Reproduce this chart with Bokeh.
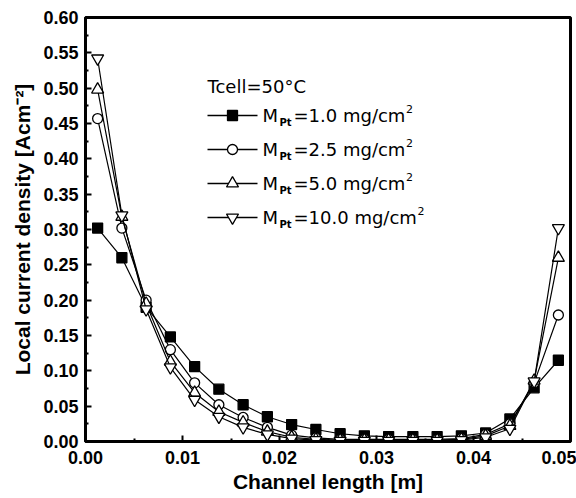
from bokeh.plotting import figure
from bokeh.models import Range1d, FixedTicker, PrintfTickFormatter
from bokeh.core.properties import value
from bokeh.embed import file_html
from bokeh.resources import INLINE

# ---- data ----
channel_x = [0.00125, 0.00375, 0.00625, 0.00875, 0.01125, 0.01375, 0.01625, 0.01875,
             0.02125, 0.02375, 0.02625, 0.02875, 0.03125, 0.03375, 0.03625, 0.03875,
             0.04125, 0.04375, 0.04625, 0.04875]
m_1_0 = [0.302, 0.260, 0.190, 0.148, 0.106, 0.074, 0.052, 0.035, 0.024, 0.017,
         0.011, 0.008, 0.007, 0.007, 0.007, 0.008, 0.012, 0.032, 0.076, 0.115]
m_2_5 = [0.457, 0.302, 0.200, 0.130, 0.083, 0.052, 0.034, 0.020, 0.009, 0.005,
         0.003, 0.003, 0.003, 0.003, 0.003, 0.004, 0.010, 0.025, 0.083, 0.179]
m_5_0 = [0.498, 0.318, 0.195, 0.113, 0.069, 0.042, 0.027, 0.014, 0.006, 0.003,
         0.002, 0.002, 0.002, 0.002, 0.002, 0.003, 0.008, 0.022, 0.086, 0.260]
m_10_0 = [0.542, 0.320, 0.187, 0.105, 0.059, 0.035, 0.020, 0.010, 0.004, 0.002,
          0.001, 0.001, 0.001, 0.001, 0.001, 0.002, 0.006, 0.018, 0.085, 0.302]

series_labels = ["=1.0 mg/cm", "=2.5 mg/cm", "=5.0 mg/cm", "=10.0 mg/cm"]
series_values = [m_1_0, m_2_5, m_5_0, m_10_0]
series_markers = ["square", "circle", "triangle", "inverted_triangle"]
series_fills = ["black", "white", "white", "white"]
series_sizes = [10, 10, 12, 12]

x_ticks = [0.0, 0.01, 0.02, 0.03, 0.04, 0.05]
x_minor = [0.005, 0.015, 0.025, 0.035, 0.045]
y_ticks = [0.0, 0.05, 0.10, 0.15, 0.20, 0.25, 0.30, 0.35, 0.40, 0.45, 0.50, 0.55, 0.60]
y_minor = [0.025, 0.075, 0.125, 0.175, 0.225, 0.275, 0.325, 0.375, 0.425, 0.475, 0.525, 0.575]

X0, X1, Y0, Y1 = 0.0, 0.05, 0.0, 0.60
# frame in pixels
FL, FR, FT, FB = 85, 570, 17, 441
W, H = 576, 498

p = figure(width=W, height=H, output_backend="svg", toolbar_location=None,
           x_range=Range1d(X0, X1), y_range=Range1d(Y0, Y1),
           min_border_left=FL, min_border_right=W - FR,
           min_border_top=FT, min_border_bottom=H - FB)
p.grid.visible = False
p.outline_line_color = "black"
p.outline_line_width = 3
p.background_fill_color = "white"
p.border_fill_color = "white"

for ax in (p.xaxis[0], p.yaxis[0]):
    ax.axis_line_width = 3
    ax.major_tick_in = 6
    ax.major_tick_out = 0
    ax.minor_tick_in = 3
    ax.minor_tick_out = 0
    ax.major_tick_line_width = 2
    ax.minor_tick_line_width = 2
    ax.major_label_text_font = "Liberation Sans"
    ax.major_label_text_font_style = "bold"
    ax.major_label_text_font_size = "18px"
    ax.major_label_text_color = "black"
    ax.axis_label_text_font = "Liberation Sans"
    ax.axis_label_text_font_style = "bold"
    ax.axis_label_text_font_size = "21px"
    ax.axis_label_text_color = "black"
    ax.formatter = PrintfTickFormatter(format="%.2f")

p.xaxis[0].ticker = FixedTicker(ticks=x_ticks, minor_ticks=x_minor)
p.yaxis[0].ticker = FixedTicker(ticks=y_ticks, minor_ticks=y_minor)
p.xaxis[0].axis_label = "Channel length [m]"
p.yaxis[0].axis_label = "Local current density [Acm\u207b\u00b2]"
p.xaxis[0].major_label_standoff = 9
p.xaxis[0].axis_label_standoff = 3
p.yaxis[0].major_label_standoff = 7
p.yaxis[0].axis_label_standoff = 6

for vals, mk, fc, sz in zip(series_values, series_markers, series_fills, series_sizes):
    p.line(channel_x, vals, line_color="black", line_width=1.2)
    p.scatter(channel_x, vals, marker=mk, size=sz, fill_color=fc,
              line_color="black", line_width=1.3)

# ---- custom legend (positions given in pixels, converted to data) ----
def dx(px):
    return X0 + (px - FL) / (FR - FL) * (X1 - X0)

def dy(py):
    return Y0 + (FB - py) / (FB - FT) * (Y1 - Y0)

font = value("DejaVu Sans")
FS = 18
p.text([dx(207)], [dy(86)], text=["Tcell=50\u00b0C"], text_font=font,
       text_font_size=f"{FS}px", text_baseline="middle", text_align="left",
       text_color="black")

row_y = [115, 149, 183, 217]
for i, (lab, mk, fc, sz) in enumerate(zip(series_labels, series_markers,
                                          series_fills, series_sizes)):
    yy = dy(row_y[i])
    p.line([dx(207), dx(257)], [yy, yy], line_color="black", line_width=1.4)
    p.scatter([dx(232)], [yy], marker=mk, size=sz, fill_color=fc,
              line_color="black", line_width=1.3)
    p.text([dx(262)], [yy], text=["M"], text_font=font, text_font_size=f"{FS}px",
           text_baseline="middle", text_align="left", text_color="black")
    p.text([dx(279)], [dy(row_y[i] + 7)], text=["Pt"], text_font=font,
           text_font_size="10px", text_font_style="bold", text_baseline="middle",
           text_align="left", text_color="black")
    p.text([dx(293)], [yy], text=[lab], text_font=font, text_font_size=f"{FS}px",
           text_baseline="middle", text_align="left", text_color="black")
    end_px = 293 + FS * (6.2 + (0.64 if len(lab) > 10 else 0.0))
    p.text([dx(end_px + 1)], [dy(row_y[i] - 7)], text=["2"], text_font=font,
           text_font_size="11px", text_baseline="middle", text_align="left",
           text_color="black")

open("out.html", "w").write(file_html(p, INLINE))
